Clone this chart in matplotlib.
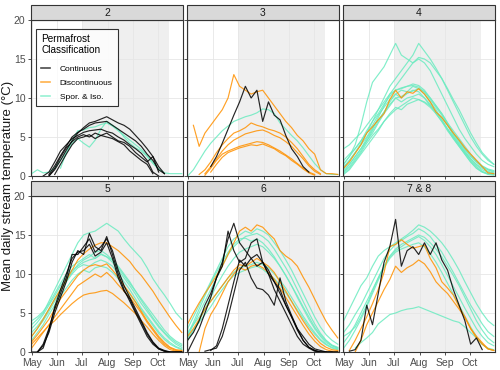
import numpy as np
import pandas as pd
import matplotlib
matplotlib.use('Agg')
import matplotlib.pyplot as plt
import matplotlib.dates as mdates
from matplotlib.patches import Rectangle
from matplotlib.lines import Line2D

plt.rcParams['font.family'] = ['Liberation Sans', 'DejaVu Sans']

N = None
# weekly sample dates (May 1 + 7 days * i)
weeks = pd.date_range('2019-05-01', periods=27, freq='7D')
shade_start, shade_end = pd.Timestamp('2019-07-01'), pd.Timestamp('2019-10-14')

facet_names = ['2', '3', '4', '5', '6', '7 & 8']
class_names = ['Continuous', 'Discontinuous', 'Spor. & Iso.']
class_colors = ['#000000', '#FF9100', '#6BEBC0']

# ---- facet 2 ----
f2_cont = [
    [N, N, N, 0.0, 0.8, 2.0, 3.3, 4.5, 5.5, 6.2, 6.8, 7.0, 7.3, 7.6, 7.2, 6.8, 6.5, 6.0, 5.2, 4.4, 3.5, 2.5, 1.2, 0.3],
    [N, N, N, 0.2, 1.3, 2.6, 3.8, 5.0, 5.6, 6.0, 6.5, 6.8, 6.9, 7.0, 6.5, 6.0, 5.5, 5.0, 4.5, 3.8, 2.8, 2.0, 0.8, 0.3],
    [N, N, 0.0, 0.5, 1.8, 3.2, 4.0, 4.8, 5.2, 5.6, 5.8, 5.9, 6.0, 5.7, 5.5, 5.0, 4.6, 4.0, 3.5, 2.9, 2.0, 0.5, 0.0],
    [N, N, N, 0.0, 1.0, 2.4, 3.6, 4.4, 5.0, 5.3, 5.0, 5.5, 5.2, 5.0, 4.8, 4.4, 4.0, 3.2, 2.6, 2.0, 1.5, 0.3],
    [N, N, N, N, 0.2, 1.5, 2.8, 4.0, 4.8, 5.0, 5.3, 4.8, 5.2, 5.5, 5.0, 4.5, 4.3, 3.8, 3.0, 2.4, 1.8, 2.5, 0.5],
]
f2_disc = []
f2_spor = [
    [0.3, 0.8, 0.4, 0.5, 1.0, 2.0, 3.0, 4.2, 4.8, 4.2, 3.7, 4.6, 6.0, 7.0, 6.5, 6.0, 5.0, 4.2, 3.6, 3.2, 2.5, 1.6, 0.9, 0.4, 0.3, 0.3, 0.3],
    [N, N, N, N, N, 1.0, 3.0, 4.6, 5.8, 5.9, 6.2, 6.3, 6.6, 6.8, 6.4, 5.8, 5.2, 4.6, 4.0, 3.4, 2.6, 1.8, 0.8],
]

# ---- facet 3 ----
f3_cont = [
    [N, N, N, N, 1.2, 2.5, 4.2, 6.0, 7.8, 9.5, 11.5, 10.0, 11.0, 7.0, 9.5, 7.8, 7.2, 5.2, 3.5, 2.5, 1.2, 0.5],
]
f3_disc = [
    [N, 6.5, 3.8, 5.5, 6.5, 7.5, 8.5, 10.0, 13.0, 11.5, 11.0, 10.5, 10.8, 11.0, 10.0, 9.0, 8.0, 7.0, 6.2, 5.2, 4.5, 3.5, 2.8, 0.8, 0.3, 0.3, 0.2],
    [N, N, 0.2, 0.8, 1.8, 3.0, 4.0, 4.8, 5.5, 5.8, 6.2, 6.8, 6.5, 6.3, 6.0, 5.8, 5.5, 5.0, 4.3, 3.5, 2.5, 1.5, 0.8, 0.3],
    [N, N, N, 0.3, 1.2, 2.2, 3.2, 4.0, 4.6, 5.0, 5.4, 5.6, 5.8, 5.9, 5.6, 5.2, 4.9, 4.4, 3.8, 3.0, 2.2, 1.3, 0.6, 0.2],
    [N, N, N, 0.1, 1.0, 2.0, 2.8, 3.2, 3.5, 3.8, 4.0, 4.2, 4.4, 4.3, 4.0, 3.6, 3.2, 2.7, 2.2, 1.6, 1.0, 0.5, 0.2],
    [N, N, N, N, 0.5, 1.5, 2.4, 3.0, 3.3, 3.6, 3.8, 4.0, 3.9, 4.1, 3.8, 3.5, 3.0, 2.6, 2.0, 1.5, 0.9, 0.4, 0.1],
]
f3_spor = [
    [0.0, 0.8, 2.0, 3.2, 4.2, 5.0, 5.8, 6.4, 7.0, 7.3, 7.6, 7.8, 8.1, 8.6, 8.5, 8.0, 6.8, 6.0, 5.2, 4.5, 3.6, 2.6, 1.6, 0.8, 0.3, 0.2, 0.2],
]

# ---- facet 4 ----
f4_cont = []
f4_disc = [
    [1.0, 1.8, 2.9, 4.0, 5.5, 6.3, 7.2, 8.0, 9.8, 11.0, 10.0, 10.8, 10.6, 11.2, 10.5, 9.5, 8.2, 7.5, 6.5, 5.5, 4.6, 3.6, 2.8, 2.0, 1.2, 0.4, 0.3],
]
f4_spor = [
    [1.5, 2.5, 4.0, 6.5, 9.5, 12.0, 13.0, 14.0, 15.5, 17.0, 15.5, 15.0, 14.5, 15.0, 14.5, 13.5, 12.0, 10.5, 9.0, 7.5, 6.0, 4.8, 3.8, 2.8, 2.0, 1.5, 1.2],
    [1.0, 2.0, 3.0, 4.2, 5.5, 7.0, 8.5, 10.0, 11.5, 12.5, 13.5, 14.5, 15.5, 17.0, 16.0, 15.0, 13.8, 12.5, 11.0, 9.5, 8.0, 6.5, 5.0, 3.8, 2.8, 2.0, 1.5],
    [0.5, 1.5, 2.5, 3.5, 4.8, 6.0, 7.5, 9.0, 10.5, 11.5, 12.5, 13.5, 14.5, 15.2, 15.0, 14.5, 13.5, 12.5, 11.2, 9.8, 8.5, 7.0, 5.5, 4.2, 3.0, 2.2, 1.5],
    [3.5, 4.0, 4.8, 5.5, 6.5, 7.5, 8.5, 9.5, 10.5, 11.0, 11.2, 11.5, 11.8, 11.6, 11.0, 10.0, 9.0, 8.0, 6.8, 5.5, 4.5, 3.5, 2.5, 1.8, 1.2, 0.8, 0.6],
    [1.2, 2.0, 3.0, 4.0, 5.0, 6.2, 7.2, 8.2, 9.5, 10.5, 11.0, 10.8, 11.5, 11.2, 10.5, 9.5, 8.5, 7.2, 6.0, 5.0, 4.0, 3.0, 2.2, 1.5, 1.0, 0.6, 0.4],
    [0.5, 1.2, 2.2, 3.2, 4.5, 5.5, 6.8, 8.0, 9.0, 10.0, 10.2, 10.6, 11.0, 10.8, 10.0, 9.2, 8.0, 7.0, 6.0, 5.0, 4.0, 3.0, 2.0, 1.2, 0.6, 0.3, 0.2],
    [0.2, 0.8, 1.8, 2.8, 3.8, 4.8, 5.8, 7.0, 8.0, 8.8, 8.5, 9.2, 9.5, 9.8, 9.4, 8.8, 8.0, 7.0, 5.8, 4.8, 3.8, 2.8, 1.8, 1.0, 0.5, 0.2, 0.1],
    [2.0, 2.8, 3.5, 4.5, 5.5, 6.5, 7.8, 8.8, 9.8, 10.5, 10.0, 10.6, 10.9, 11.2, 10.8, 10.0, 9.0, 8.0, 6.8, 5.8, 4.8, 3.8, 2.8, 2.0, 1.3, 0.9, 0.7],
    [0.8, 1.5, 2.5, 3.5, 4.5, 5.8, 7.0, 8.2, 9.2, 10.0, 9.5, 10.0, 10.2, 10.5, 10.0, 9.0, 8.2, 7.5, 6.5, 5.2, 4.2, 3.2, 2.2, 1.4, 0.8, 0.5, 0.3],
    [0.3, 1.0, 2.0, 3.0, 4.2, 5.2, 6.0, 7.0, 7.8, 8.5, 9.0, 9.5, 10.0, 9.8, 9.5, 9.0, 8.2, 7.2, 6.0, 4.8, 3.8, 2.8, 1.8, 1.0, 0.5, 0.3, 0.2],
    [1.5, 2.5, 3.5, 4.5, 5.8, 7.0, 8.0, 9.2, 10.2, 11.0, 11.3, 11.5, 11.6, 11.4, 10.8, 9.8, 8.8, 7.8, 6.6, 5.4, 4.4, 3.4, 2.6, 1.8, 1.2, 0.8, 0.5],
]

# ---- facet 5 ----
f5_cont = [
    [0.0, 0.0, 1.0, 3.0, 5.5, 7.5, 9.5, 12.5, 12.5, 13.5, 14.5, 12.8, 13.5, 14.5, 13.0, 10.5, 8.5, 7.0, 5.5, 4.0, 2.5, 1.3, 0.5, 0.2, 0.0, 0.0, 0.0],
    [N, 0.0, 0.8, 2.5, 5.0, 7.0, 9.0, 11.5, 13.0, 12.5, 15.2, 13.5, 13.0, 14.8, 12.5, 10.0, 8.0, 6.5, 5.0, 3.5, 2.0, 1.0, 0.4, 0.1, 0.0, 0.0, 0.0],
    [N, 0.0, 0.5, 2.8, 5.8, 8.0, 10.0, 12.0, 12.8, 13.0, 13.8, 12.3, 12.8, 14.0, 12.0, 9.5, 7.8, 6.8, 5.2, 3.8, 2.3, 1.2, 0.4, 0.1, 0.0, 0.0, 0.0],
]
f5_disc = [
    [2.0, 3.0, 4.2, 5.5, 6.8, 8.0, 9.2, 10.5, 11.8, 12.6, 13.2, 13.7, 14.0, 14.0, 13.5, 13.0, 12.3, 11.6, 10.6, 9.8, 8.8, 7.8, 6.6, 5.5, 4.4, 3.4, 2.5],
    [1.3, 2.2, 3.2, 4.2, 5.5, 6.8, 7.8, 8.8, 9.8, 10.5, 11.0, 11.2, 11.0, 11.3, 10.5, 9.6, 8.5, 7.5, 6.4, 5.2, 4.0, 3.0, 2.0, 1.2, 0.6, 0.3, 0.2],
    [0.5, 1.5, 2.5, 3.5, 4.5, 5.5, 6.5, 7.5, 8.5, 9.0, 9.5, 10.0, 9.6, 10.2, 9.5, 8.6, 7.8, 7.0, 6.0, 5.0, 3.8, 2.8, 1.8, 1.0, 0.5, 0.2, 0.1],
    [1.0, 1.8, 2.6, 3.4, 4.0, 4.8, 5.5, 6.2, 6.8, 7.3, 7.5, 7.6, 7.8, 7.9, 7.5, 6.9, 6.3, 5.6, 4.9, 4.0, 3.2, 2.3, 1.5, 0.8, 0.3, 0.1, 0.1],
]
f5_spor = [
    [3.5, 4.2, 5.0, 6.5, 8.0, 9.5, 11.0, 12.5, 14.0, 15.0, 15.3, 15.5, 16.0, 16.5, 16.0, 15.5, 14.5, 13.6, 12.8, 12.0, 10.8, 9.4, 8.3, 7.3, 6.2, 5.0, 4.2],
    [3.0, 3.8, 4.8, 6.0, 7.2, 8.5, 9.5, 10.5, 11.0, 11.5, 11.8, 12.0, 12.5, 12.2, 11.8, 11.0, 10.0, 9.0, 7.8, 6.6, 5.5, 4.4, 3.4, 2.5, 1.8, 1.2, 0.8],
    [2.0, 3.0, 4.0, 5.2, 6.5, 7.8, 9.0, 10.0, 10.8, 11.2, 11.0, 11.5, 11.8, 11.5, 11.0, 10.0, 9.0, 8.0, 6.8, 5.6, 4.6, 3.6, 2.6, 1.8, 1.2, 0.7, 0.4],
    [4.0, 4.5, 5.2, 6.2, 7.5, 8.8, 10.0, 11.0, 11.5, 12.0, 12.5, 12.0, 12.6, 12.2, 11.5, 10.5, 9.5, 8.5, 7.4, 6.2, 5.2, 4.2, 3.2, 2.4, 1.6, 1.0, 0.6],
    [1.5, 2.5, 3.5, 4.8, 6.0, 7.2, 8.2, 9.2, 10.0, 10.5, 10.2, 10.8, 11.0, 10.8, 10.2, 9.4, 8.4, 7.4, 6.4, 5.4, 4.4, 3.4, 2.4, 1.6, 1.0, 0.6, 0.3],
    [2.5, 3.3, 4.3, 5.5, 6.8, 8.0, 9.2, 10.2, 11.2, 11.8, 12.2, 12.8, 13.0, 12.5, 11.8, 10.8, 9.8, 8.8, 7.8, 6.8, 5.8, 4.8, 3.8, 2.8, 2.0, 1.4, 1.0],
]

# ---- facet 6 ----
f6_cont = [
    [1.5, 2.5, 4.0, 6.0, 7.5, 9.5, 11.5, 14.5, 16.5, 14.0, 13.0, 12.0, 12.5, 11.5, 10.0, 9.0, 7.5, 6.0, 4.5, 3.0, 2.0, 1.0, 0.4, 0.2, 0.0, 0.0, 0.0],
    [0.0, 1.5, 3.0, 5.0, 7.0, 9.5, 11.0, 15.5, 13.0, 11.5, 12.0, 14.0, 14.5, 11.5, 10.0, 8.0, 6.5, 5.0, 3.5, 2.0, 1.0, 0.5, 0.1, 0.0, 0.0, 0.0, 0.0],
    [N, N, N, 0.1, 0.3, 0.5, 2.0, 4.5, 7.5, 10.5, 11.5, 9.5, 8.2, 8.0, 7.3, 6.0, 9.5, 6.5, 4.7, 3.0, 1.5, 0.6, 0.2, 0.0, 0.0, 0.0],
    [N, N, N, N, 0.2, 0.8, 3.0, 6.0, 9.0, 11.8, 11.0, 12.0, 11.0, 11.5, 10.5, 9.0, 8.0, 6.0, 4.5, 2.8, 1.5, 0.6, 0.2, 0.0, 0.0],
]
f6_disc = [
    [3.6, 5.0, 6.3, 7.5, 8.6, 9.8, 11.0, 12.5, 14.0, 15.5, 16.0, 15.5, 16.3, 16.0, 15.2, 14.5, 13.0, 12.3, 11.8, 11.0, 9.6, 8.3, 6.8, 5.3, 3.9, 2.8, 1.8],
    [2.0, 3.0, 4.2, 5.5, 6.5, 7.5, 8.5, 9.5, 10.5, 11.2, 11.0, 11.5, 12.0, 11.5, 11.0, 10.2, 9.0, 7.8, 6.5, 5.2, 4.0, 2.9, 1.9, 1.1, 0.6, 0.3, 0.2],
    [N, N, 0.0, 3.0, 4.8, 6.0, 7.5, 9.0, 10.0, 10.8, 10.5, 11.0, 11.2, 10.8, 10.2, 9.3, 8.2, 7.0, 5.8, 4.6, 3.4, 2.3, 1.4, 0.7, 0.3, 0.1, 0.1],
]
f6_spor = [
    [3.0, 4.5, 6.0, 7.5, 9.0, 10.5, 12.0, 13.5, 14.5, 15.0, 15.5, 15.2, 15.8, 15.5, 15.0, 14.0, 13.0, 11.8, 10.5, 9.0, 7.5, 6.0, 4.5, 3.2, 2.2, 1.5, 1.0],
    [2.0, 3.5, 5.0, 6.5, 8.0, 9.5, 11.0, 12.5, 13.5, 14.2, 14.8, 15.0, 15.2, 14.8, 14.2, 13.2, 12.0, 10.8, 9.5, 8.0, 6.5, 5.0, 3.6, 2.4, 1.5, 0.9, 0.6],
    [1.5, 2.8, 4.0, 5.5, 7.0, 8.5, 9.8, 11.0, 12.0, 12.8, 13.2, 13.5, 13.8, 13.5, 12.8, 12.0, 11.0, 9.8, 8.5, 7.2, 5.8, 4.5, 3.2, 2.2, 1.4, 0.8, 0.5],
    [2.5, 3.5, 4.5, 5.5, 6.5, 7.5, 8.5, 9.5, 10.2, 10.8, 11.0, 11.2, 11.5, 11.2, 10.8, 10.0, 9.2, 8.2, 7.0, 5.8, 4.6, 3.5, 2.5, 1.6, 1.0, 0.6, 0.4],
    [1.8, 2.8, 3.8, 4.8, 5.8, 7.0, 8.0, 9.0, 9.8, 10.2, 10.5, 10.8, 11.0, 10.6, 10.0, 9.4, 8.6, 7.6, 6.5, 5.4, 4.3, 3.2, 2.3, 1.5, 0.9, 0.5, 0.3],
    [2.2, 3.8, 5.5, 7.2, 8.8, 10.2, 11.5, 12.8, 13.8, 14.5, 14.6, 14.2, 14.5, 14.0, 13.2, 12.2, 11.0, 9.8, 8.5, 7.0, 5.6, 4.2, 3.0, 2.0, 1.2, 0.8, 0.5],
]

# ---- facet 7 & 8 ----
f78_cont = [
    [N, 0.1, 0.3, 1.5, 6.0, 3.5, 7.5, 11.5, 13.5, 17.0, 11.0, 13.0, 13.5, 12.5, 14.0, 12.5, 14.0, 11.8, 10.5, 8.0, 6.0, 4.0, 1.0, 1.8, 0.3],
]
f78_disc = [
    [N, 0.2, 1.5, 3.0, 4.5, 6.2, 8.0, 10.2, 13.5, 13.8, 14.4, 13.8, 13.3, 13.5, 13.7, 12.0, 10.8, 9.0, 8.2, 7.3, 5.8, 4.5, 3.0, 2.0, 1.2, 0.4, 0.2],
    [N, N, 0.0, 1.5, 3.5, 5.0, 6.5, 8.0, 9.3, 11.0, 10.2, 10.8, 11.2, 11.8, 11.3, 10.3, 9.0, 8.2, 7.5, 6.5, 5.5, 4.4, 3.0, 1.8, 1.0, 0.4, 0.2],
]
f78_spor = [
    [N, N, 0.5, 1.2, 1.8, 2.5, 3.6, 4.2, 4.8, 5.0, 5.3, 5.5, 5.6, 5.8, 5.5, 5.2, 4.9, 4.6, 4.3, 4.0, 3.8, 3.2, 2.5, 1.8, 1.0, 0.4, 0.2],
    [4.0, 5.5, 7.0, 8.5, 9.5, 11.0, 12.3, 13.0, 13.5, 14.0, 14.5, 15.0, 15.6, 16.3, 16.0, 15.5, 14.8, 14.0, 13.0, 11.8, 10.5, 9.0, 7.6, 6.2, 5.0, 4.0, 3.4],
    [2.5, 3.5, 4.8, 6.0, 7.5, 9.0, 10.5, 12.0, 13.0, 13.8, 14.3, 14.8, 15.2, 15.8, 15.4, 14.8, 13.8, 12.8, 11.5, 10.2, 8.8, 7.4, 6.0, 4.8, 3.6, 2.6, 2.0],
    [1.2, 2.2, 3.5, 5.0, 6.5, 8.0, 9.5, 11.0, 12.2, 13.0, 13.5, 14.0, 14.4, 14.8, 14.3, 13.5, 12.5, 11.2, 9.8, 8.4, 7.0, 5.6, 4.3, 3.0, 2.0, 1.2, 0.8],
    [0.5, 1.5, 2.8, 4.2, 5.8, 7.5, 9.2, 10.8, 12.0, 12.8, 13.2, 13.5, 13.8, 14.0, 13.5, 12.6, 11.5, 10.2, 8.8, 7.4, 6.0, 4.6, 3.2, 2.0, 1.0, 0.5, 0.3],
    [2.0, 2.5, 3.2, 4.5, 6.0, 7.8, 9.5, 11.0, 12.3, 13.2, 13.8, 14.2, 14.6, 15.0, 14.7, 14.0, 13.2, 12.2, 11.0, 9.8, 8.5, 7.0, 5.5, 4.0, 2.8, 1.8, 1.2],
]

panel_data = [
    (f2_cont, f2_disc, f2_spor),
    (f3_cont, f3_disc, f3_spor),
    (f4_cont, f4_disc, f4_spor),
    (f5_cont, f5_disc, f5_spor),
    (f6_cont, f6_disc, f6_spor),
    (f78_cont, f78_disc, f78_spor),
]


def as_series(vals):
    arr = np.full(len(weeks), np.nan)
    for i, v in enumerate(vals):
        if v is not None:
            arr[i] = v
    return arr


fig = plt.figure(figsize=(5, 3.7), dpi=100)
W, H = 500.0, 370.0
col_left = [31, 187, 343]
row_top = [20, 196]
pw, ph = 152, 156
strip_h = 15

for k, name in enumerate(facet_names):
    r, c = divmod(k, 3)
    ax = fig.add_axes([col_left[c] / W, 1 - (row_top[r] + ph) / H, pw / W, ph / H])
    ax.axvspan(shade_start, shade_end, color='#EFEFEF', lw=0, zorder=0)
    ax.grid(True, color='#E6E6E6', lw=0.6, zorder=0.5)
    ax.set_axisbelow(True)

    cont, disc, spor = panel_data[k]
    for group, col in ((spor, class_colors[2]), (disc, class_colors[1]), (cont, class_colors[0])):
        for vals in group:
            ax.plot(weeks, as_series(vals), color=col, lw=0.85, alpha=0.85, zorder=2)

    ax.set_ylim(0, 20)
    ax.set_yticks([0, 5, 10, 15, 20])
    ax.set_xlim(pd.Timestamp('2019-04-30 06:00'), pd.Timestamp('2019-10-31 12:00'))
    ax.xaxis.set_major_locator(mdates.MonthLocator(bymonth=range(5, 11)))
    ax.xaxis.set_major_formatter(mdates.DateFormatter('%b'))
    ax.tick_params(length=2.5, width=0.6, color='#333333', labelcolor='#4D4D4D',
                   labelsize=7.5, pad=1.5)
    if r == 0:
        ax.tick_params(labelbottom=False)
    if c > 0:
        ax.tick_params(labelleft=False)
    for s in ax.spines.values():
        s.set_color('#333333')
        s.set_linewidth(0.8)

    ax.add_patch(Rectangle((0, 1), 1, strip_h / ph, transform=ax.transAxes,
                           facecolor='#D9D9D9', edgecolor='#333333', lw=0.8,
                           clip_on=False, zorder=3))
    ax.text(0.5, 1 + strip_h / ph / 2, name, transform=ax.transAxes,
            ha='center', va='center', fontsize=7.5, color='#1A1A1A', zorder=4)

    if k == 0:
        handles = [Line2D([], [], color=col, lw=1.2, alpha=0.7) for col in class_colors]
        leg = ax.legend(handles, class_names, title='Permafrost\nClassification',
                        loc='upper left', bbox_to_anchor=(0.035, 0.945), borderaxespad=0,
                        fontsize=6.0, title_fontsize=7.2, frameon=True, fancybox=False,
                        handlelength=1.1, handletextpad=1.1, labelspacing=0.75,
                        borderpad=0.6)
        leg._legend_box.align = 'left'
        leg._legend_box.sep = 7
        leg.get_frame().set_edgecolor('#000000')
        leg.get_frame().set_linewidth(0.8)
        leg.set_zorder(5)

fig.text(8 / W, 1 - 186 / H, 'Mean daily stream temperature (\u00b0C)', rotation=90,
         ha='center', va='center', fontsize=9.5, color='#1A1A1A')

fig.savefig('out.png', dpi=100)
